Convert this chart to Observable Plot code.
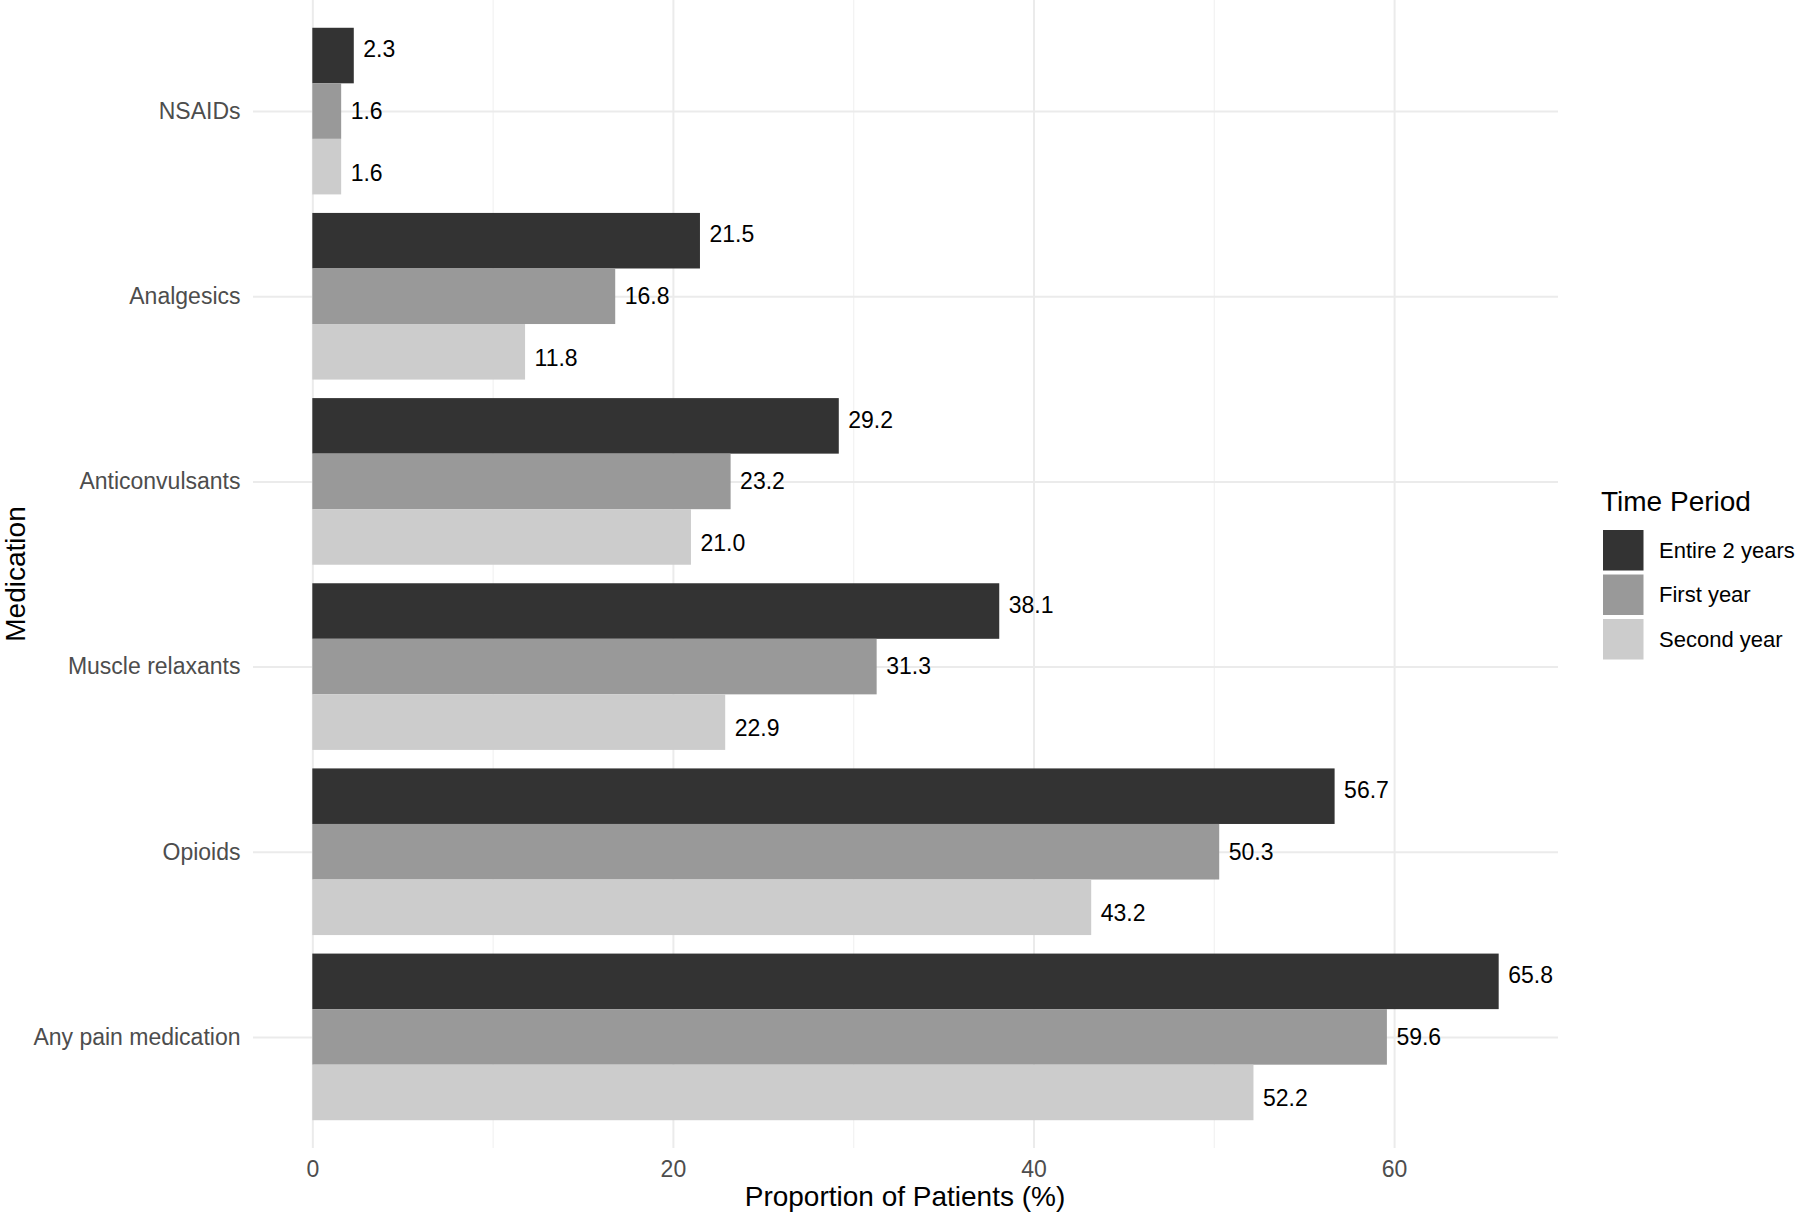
<!DOCTYPE html>
<html>
<head>
<meta charset="utf-8">
<script src="https://cdn.jsdelivr.net/npm/d3@7"></script>
<script src="https://cdn.jsdelivr.net/npm/@observablehq/plot@0.6"></script>
<style>
  html, body { margin: 0; padding: 0; background: #ffffff; }
  #chart { position: relative; width: 1800px; height: 1217px; }
</style>
</head>
<body>
<div id="chart"></div>
<script>
const categories = ["NSAIDs", "Analgesics", "Anticonvulsants", "Muscle relaxants", "Opioids", "Any pain medication"];
const periods = ["Entire 2 years", "First year", "Second year"];
const entireTwoYears = [2.3, 21.5, 29.2, 38.1, 56.7, 65.8];
const firstYear = [1.6, 16.8, 23.2, 31.3, 50.3, 59.6];
const secondYear = [1.6, 11.8, 21.0, 22.9, 43.2, 52.2];
const periodColors = ["#333333", "#999999", "#CCCCCC"];
const xTicks = [0, 20, 40, 60];
const xMinorTicks = [10, 30, 50];

const series = [entireTwoYears, firstYear, secondYear];
const rows = categories.flatMap((c, ci) =>
  periods.map((p, pi) => ({category: c, ci, period: p, pi, value: series[pi][ci]}))
);

const xMax = d3.max(rows, d => d.value);
const xPad = xMax * 0.05;
const barW = 0.9 / periods.length;

const font = "'Liberation Sans', Arial, Helvetica, sans-serif";

const plot = Plot.plot({
  width: 1800,
  height: 1217,
  marginLeft: 253,
  marginRight: 242,
  marginTop: 0,
  marginBottom: 69,
  style: {fontFamily: font, fontSize: "23px", color: "#4D4D4D", background: "#ffffff"},
  x: {domain: [-xPad, xMax + xPad], ticks: xTicks, tickSize: 0, tickPadding: 12, label: null},
  y: {domain: [-0.6, categories.length - 0.4], reverse: true, ticks: d3.range(categories.length),
      tickFormat: i => categories[i], tickSize: 0, tickPadding: 13, label: null},
  color: {domain: periods, range: periodColors},
  marks: [
    Plot.ruleX(xMinorTicks, {stroke: "#F2F2F2", strokeWidth: 1.2}),
    Plot.ruleX(xTicks, {stroke: "#EBEBEB", strokeWidth: 2}),
    Plot.ruleY(d3.range(categories.length), {stroke: "#EBEBEB", strokeWidth: 2}),
    Plot.rectX(rows, {
      x1: 0,
      x2: "value",
      y1: d => d.ci - 0.45 + d.pi * barW,
      y2: d => d.ci - 0.45 + (d.pi + 1) * barW,
      fill: d => periodColors[d.pi]
    }),
    Plot.text(rows, {
      x: "value",
      y: d => d.ci + (d.pi - 1) / 3,
      text: d => d.value.toFixed(1),
      dx: 9,
      textAnchor: "start",
      fontSize: 23,
      fill: "#000000"
    })
  ]
});

document.getElementById("chart").appendChild(plot);

const svg = d3.select(plot);

// Axis titles
svg.append("text")
  .attr("x", 905).attr("y", 1206)
  .attr("text-anchor", "middle")
  .attr("font-family", font).attr("font-size", 28).attr("fill", "#000000")
  .text("Proportion of Patients (%)");

svg.append("text")
  .attr("transform", "translate(25,574) rotate(-90)")
  .attr("text-anchor", "middle")
  .attr("font-family", font).attr("font-size", 28).attr("fill", "#000000")
  .text("Medication");

// Legend
const lg = svg.append("g").attr("font-family", font).attr("text-anchor", "start");
lg.append("text")
  .attr("x", 1601).attr("y", 511)
  .attr("text-anchor", "start")
  .attr("font-size", 28).attr("fill", "#000000")
  .text("Time Period");
const keyTop = 530, keyStep = 44.5, keySize = 40.5;
periods.forEach((p, i) => {
  lg.append("rect")
    .attr("x", 1603).attr("y", keyTop + i * keyStep)
    .attr("width", keySize).attr("height", keySize)
    .attr("fill", periodColors[i]);
  lg.append("text")
    .attr("x", 1659).attr("y", keyTop + i * keyStep + keySize / 2)
    .attr("dy", "0.35em")
    .attr("text-anchor", "start")
    .attr("font-size", 22).attr("fill", "#000000")
    .text(p);
});
</script>
</body>
</html>
